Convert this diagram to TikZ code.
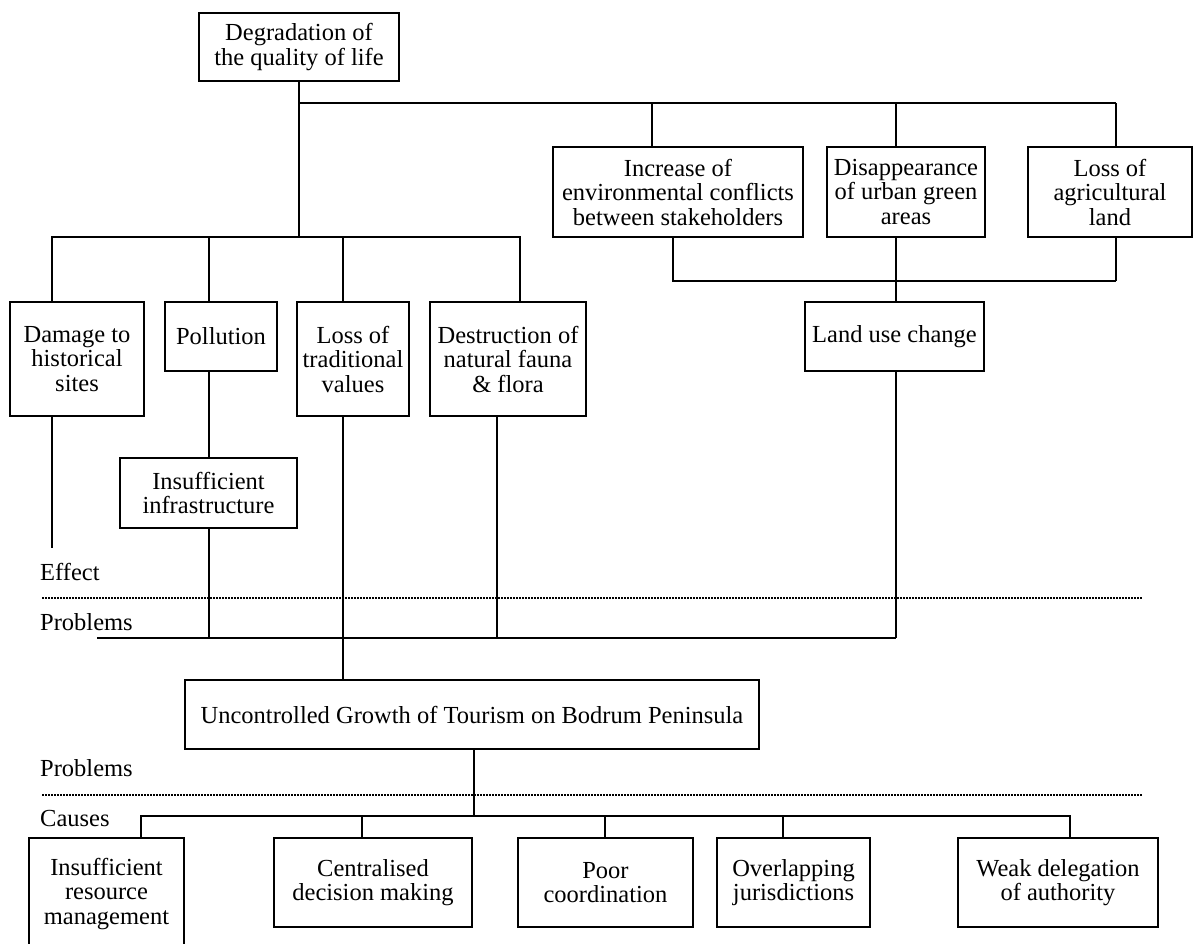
\documentclass[tikz,border=0pt]{standalone}
\usepackage{fontspec}
\setmainfont{Liberation Serif}
\begin{document}
\begin{tikzpicture}[x=1pt,y=-1pt,
  box/.style={draw, line width=1.5pt, inner sep=0pt, align=center, font=\fontsize{24.5}{24.5}\selectfont},
  ln/.style={line width=1.4pt},
  dots/.style={line width=1.6pt, dash pattern=on 1.6pt off 1.4pt},
  lab/.style={anchor=west, inner sep=0pt, font=\fontsize{24.5}{24.5}\selectfont}]
\useasboundingbox (0,0) rectangle (1194,943);
\clip (0,0) rectangle (1194,943);
% nodes
\node[box, minimum width=200pt, minimum height=68pt] (top) at (299,47) {Degradation of\\the quality of life};
\node[box, minimum width=250pt, minimum height=90pt] (inc) at (678,192) {Increase of\\environmental conflicts\\between stakeholders};
\node[box, minimum width=158pt, minimum height=90pt] (dis) at (906,192) {Disappearance\\of urban green\\areas};
\node[box, minimum width=164pt, minimum height=90pt] (loa) at (1110,192) {Loss of\\agricultural\\land};
\node[box, minimum width=179pt, minimum height=69pt] (land) at (894.5,336.5) {Land use change};
\node[box, minimum width=134pt, minimum height=114pt] (dam) at (77,359) {Damage to\\historical\\sites};
\node[box, minimum width=112pt, minimum height=69pt] (pol) at (221,336.5) {Pollution};
\node[box, minimum width=112pt, minimum height=114pt] (ltv) at (353,359) {Loss of\\traditional\\values};
\node[box, minimum width=156pt, minimum height=114pt] (des) at (508,359) {Destruction of\\natural fauna\\\& flora};
\node[box, minimum width=177pt, minimum height=70pt] (inf) at (208.5,493) {Insufficient\\infrastructure};
\node[box, minimum width=574pt, minimum height=69pt] (unc) at (472,714.5) {Uncontrolled Growth of Tourism on Bodrum Peninsula};
\node[box, minimum width=155pt, minimum height=112pt] (irm) at (106.5,894) {Insufficient\\resource\\management};
\node[box, minimum width=198pt, minimum height=89pt] (cdm) at (373,882.5) {Centralised\\decision making};
\node[box, minimum width=175pt, minimum height=89pt] (pc) at (605.5,882.5) {Poor\\coordination};
\node[box, minimum width=153pt, minimum height=89pt] (oj) at (793.5,882.5) {Overlapping\\jurisdictions};
\node[box, minimum width=200pt, minimum height=89pt] (wda) at (1058,882.5) {Weak delegation\\of authority};
% labels
\node[lab] (eff) at (40,572) {Effect};
\node[lab] (pr1) at (40,622) {Problems};
\node[lab] (pr2) at (40,768) {Problems};
\node[lab] (cau) at (40,818) {Causes};
% dotted separators
\draw[dots] (42,598) -- (1142,598);
\draw[dots] (42,795) -- (1142,795);
% top tree
\draw[ln] (top.south) -- (299,237);
\draw[ln] (299,103) -- (1116,103);
\draw[ln] (652,103) -- (652,0 |- inc.north);
\draw[ln] (896,103) -- (896,0 |- dis.north);
\draw[ln] (1116,103) -- (1116,0 |- loa.north);
\draw[ln] (673,0 |- inc.south) |- (1116,281);
\draw[ln] (1116,0 |- loa.south) -- (1116,281);
\draw[ln] (896,0 |- dis.south) -- (896,0 |- land.north);
% left branch
\draw[ln] (52,0 |- dam.north) -- (52,237) -- (520,237) -- (520,0 |- des.north);
\draw[ln] (209,237) -- (209,0 |- pol.north);
\draw[ln] (343,237) -- (343,0 |- ltv.north);
\draw[ln] (52,0 |- dam.south) -- (52,548);
\draw[ln] (209,0 |- pol.south) -- (209,0 |- inf.north);
\draw[ln] (209,0 |- inf.south) -- (209,638);
\draw[ln] (343,0 |- ltv.south) -- (343,0 |- unc.north);
\draw[ln] (497,0 |- des.south) -- (497,638);
\draw[ln] (896,0 |- land.south) -- (896,638);
\draw[ln] (97,638) -- (896,638);
% causes
\draw[ln] (474,0 |- unc.south) -- (474,816);
\draw[ln] (141,0 |- irm.north) -- (141,816) -- (1070,816) -- (1070,0 |- wda.north);
\draw[ln] (362,816) -- (362,0 |- cdm.north);
\draw[ln] (605,816) -- (605,0 |- pc.north);
\draw[ln] (783,816) -- (783,0 |- oj.north);
\end{tikzpicture}
\end{document}
